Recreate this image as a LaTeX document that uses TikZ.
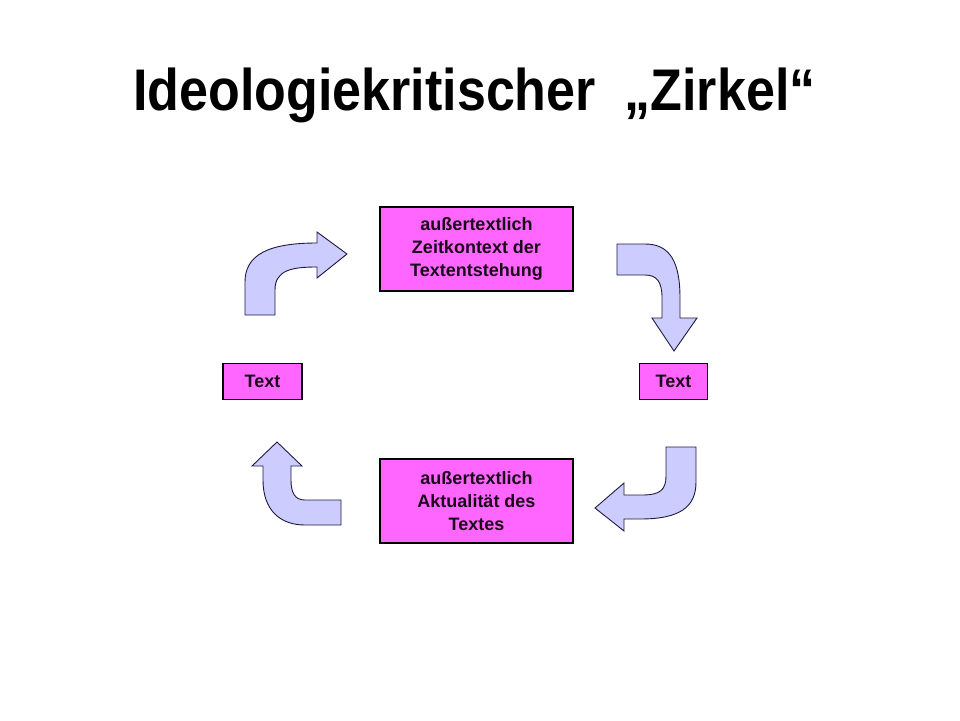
\documentclass[tikz,border=0pt]{standalone}
\usepackage{fontspec}
\setmainfont{Liberation Sans}
\definecolor{boxfill}{HTML}{FF66FF}
\definecolor{arrfill}{HTML}{CCCCFF}
\definecolor{arrline}{HTML}{1F1A40}
\definecolor{txt}{HTML}{1A0A1A}
\begin{document}
\begin{tikzpicture}[x=1pt,y=-1pt,
  pinkbox/.style={draw=black,line width=1.1pt,fill=boxfill,text=txt,inner sep=0pt,align=center,
    font=\bfseries\fontsize{18}{22.7}\selectfont},
  blockarrow/.style={draw=arrline,line width=0.9pt,fill=arrfill,line join=miter}]
\useasboundingbox (0,0) rectangle (960,720);
% title
\node[anchor=base,inner sep=0pt,text=black] (title) at (474.5,110)
  {\scalebox{1}[1.13]{\fontsize{52}{60}\selectfont\bfseries Ideologiekritischer\ \ „Zirkel“}};
% boxes
\node[pinkbox,minimum width=193pt,minimum height=84pt] (top) at (476.5,249) {außertextlich\\Zeitkontext der\\Textentstehung};
\node[pinkbox,minimum width=193pt,minimum height=84pt] (bot) at (476.5,501) {außertextlich\\Aktualität des\\Textes};
\node[pinkbox,minimum width=79pt,minimum height=36pt] (lt) at (262.5,381.5) {Text};
\node[pinkbox,minimum width=68pt,minimum height=36pt] (rt) at (673.5,381.5) {Text};
% arrow top-left
\draw[blockarrow] (245,315) -- (245,282) .. controls (245,255) and (268,243) .. (317,243)
  -- (317,232) -- (347,254) -- (317,278) -- (317,267)
  .. controls (292,267) and (275,270) .. (275,290) -- (275,315) -- cycle;
% arrow top-right
\draw[blockarrow] (617,244) -- (645,244) .. controls (670,244) and (680,262) .. (680,298)
  -- (680,318) -- (697,318) -- (674,351) -- (652,318) -- (662,318) -- (662,298)
  .. controls (662,282) and (657,275) .. (645,275) -- (617,275) -- cycle;
% arrow bottom-right
\draw[blockarrow] (666,447) -- (696,447) -- (696,482) .. controls (696,507) and (680,519) .. (640,519)
  -- (624,519) -- (624,531) -- (595,508) -- (624,483) -- (624,495) -- (642,495)
  .. controls (660,495) and (666,490) .. (666,476) -- cycle;
% arrow bottom-left
\draw[blockarrow] (341,500) -- (305,500) .. controls (295,500) and (291,493) .. (291,480)
  -- (291,466) -- (302,466) -- (277,442) -- (252,466) -- (263,466) -- (263,480)
  .. controls (263,510) and (280,525) .. (305,525) -- (341,525) -- cycle;
\end{tikzpicture}
\end{document}
